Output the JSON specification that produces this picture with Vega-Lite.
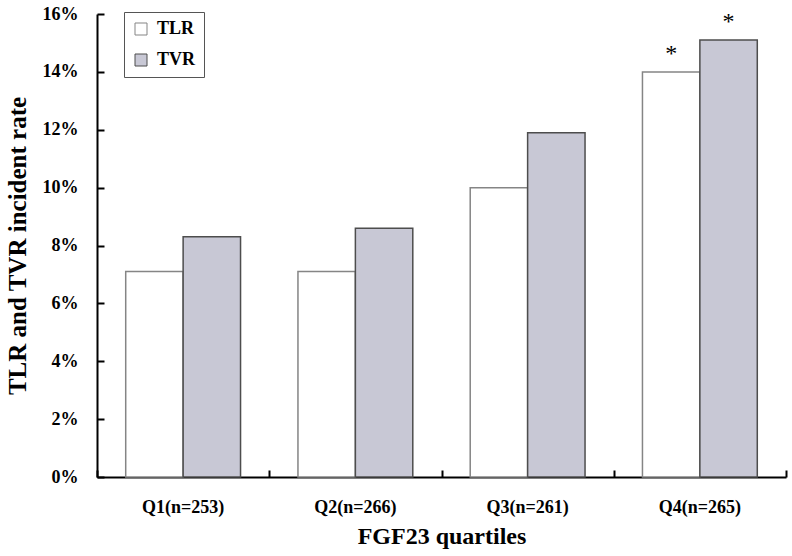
{
  "$schema": "https://vega.github.io/schema/vega-lite/v6.json",
  "width": 689,
  "height": 463,
  "autosize": {"type": "none"},
  "padding": {"left": 97, "top": 14, "right": 6, "bottom": 79},
  "background": "white",
  "config": {
    "view": {"stroke": null},
    "font": "Liberation Serif"
  },
  "data": {
    "values": [
      {"quartile": "Q1(n=253)", "series": "TLR", "rate": 7.1, "sig": ""},
      {"quartile": "Q1(n=253)", "series": "TVR", "rate": 8.3, "sig": ""},
      {"quartile": "Q2(n=266)", "series": "TLR", "rate": 7.1, "sig": ""},
      {"quartile": "Q2(n=266)", "series": "TVR", "rate": 8.6, "sig": ""},
      {"quartile": "Q3(n=261)", "series": "TLR", "rate": 10.0, "sig": ""},
      {"quartile": "Q3(n=261)", "series": "TVR", "rate": 11.9, "sig": ""},
      {"quartile": "Q4(n=265)", "series": "TLR", "rate": 14.0, "sig": "*"},
      {"quartile": "Q4(n=265)", "series": "TVR", "rate": 15.1, "sig": "*"}
    ]
  },
  "resolve": {"scale": {"x": "independent", "y": "independent"}},
  "layer": [
    {
      "mark": {"type": "bar", "strokeWidth": 1.5},
      "encoding": {
        "x": {
          "field": "quartile",
          "type": "nominal",
          "sort": null,
          "scale": {"paddingInner": 0, "paddingOuter": 0},
          "axis": {
            "orient": "bottom",
            "title": "FGF23 quartiles",
            "titleFont": "Liberation Serif",
            "titleFontSize": 24,
            "titleFontWeight": "bold",
            "titleColor": "black",
            "titlePadding": 8,
            "labelAngle": 0,
            "labelFont": "Liberation Serif",
            "labelFontSize": 18,
            "labelFontWeight": "bold",
            "labelColor": "black",
            "labelPadding": 21,
            "domainColor": "black",
            "domainWidth": 2,
            "ticks": false
          }
        },
        "xOffset": {
          "field": "series",
          "type": "nominal",
          "scale": {"paddingInner": 0, "paddingOuter": 0.5}
        },
        "y": {
          "field": "rate",
          "type": "quantitative",
          "scale": {"domain": [0, 16]},
          "axis": {
            "orient": "left",
            "title": "TLR and TVR incident rate",
            "titleFont": "Liberation Serif",
            "titleFontSize": 25,
            "titleFontWeight": "bold",
            "titleColor": "black",
            "titlePadding": 12,
            "values": [0, 2, 4, 6, 8, 10, 12, 14, 16],
            "labelExpr": "datum.value + '%'",
            "labelFont": "Liberation Serif",
            "labelFontSize": 18,
            "labelFontWeight": "bold",
            "labelColor": "black",
            "labelPadding": 19,
            "grid": false,
            "domainColor": "black",
            "domainWidth": 2,
            "ticks": false
          }
        },
        "fill": {
          "field": "series",
          "type": "nominal",
          "scale": {"domain": ["TLR", "TVR"], "range": ["#ffffff", "#c8c8d5"]},
          "legend": {
            "title": null,
            "orient": "none",
            "legendX": 27,
            "legendY": -2,
            "padding": 8,
            "strokeColor": "#555555",
            "fillColor": "white",
            "labelFont": "Liberation Serif",
            "labelFontSize": 18,
            "labelFontWeight": "bold",
            "labelColor": "black",
            "labelOffset": 7,
            "symbolType": "square",
            "symbolSize": 144,
            "symbolStrokeWidth": 1,
            "rowPadding": 13
          }
        },
        "stroke": {
          "field": "series",
          "type": "nominal",
          "scale": {"domain": ["TLR", "TVR"], "range": ["#858585", "#4d4d4d"]},
          "legend": null
        }
      }
    },
    {
      "mark": {"type": "text", "fontSize": 24, "baseline": "middle", "dy": -18, "font": "Liberation Serif"},
      "encoding": {
        "x": {
          "field": "quartile",
          "type": "nominal",
          "sort": null,
          "scale": {"paddingInner": 0, "paddingOuter": 0},
          "axis": null
        },
        "xOffset": {
          "field": "series",
          "type": "nominal",
          "scale": {"paddingInner": 0, "paddingOuter": 0.5}
        },
        "y": {
          "field": "rate",
          "type": "quantitative",
          "scale": {"domain": [0, 16]},
          "axis": null
        },
        "text": {"field": "sig", "type": "nominal"}
      }
    },
    {
      "mark": {"type": "point", "opacity": 0},
      "encoding": {
        "x": {
          "field": "quartile",
          "type": "nominal",
          "sort": null,
          "scale": {"paddingInner": 0, "paddingOuter": 0},
          "axis": {
            "orient": "bottom",
            "offset": -7,
            "title": null,
            "labels": false,
            "domain": false,
            "tickColor": "black",
            "tickWidth": 2,
            "tickSize": 7,
            "tickBand": "extent"
          }
        },
        "y": {
          "field": "rate",
          "type": "quantitative",
          "scale": {"domain": [0, 16]},
          "axis": {
            "orient": "left",
            "offset": -7,
            "title": null,
            "labels": false,
            "domain": false,
            "grid": false,
            "values": [0, 2, 4, 6, 8, 10, 12, 14, 16],
            "tickColor": "black",
            "tickWidth": 2,
            "tickSize": 7
          }
        }
      }
    }
  ]
}
